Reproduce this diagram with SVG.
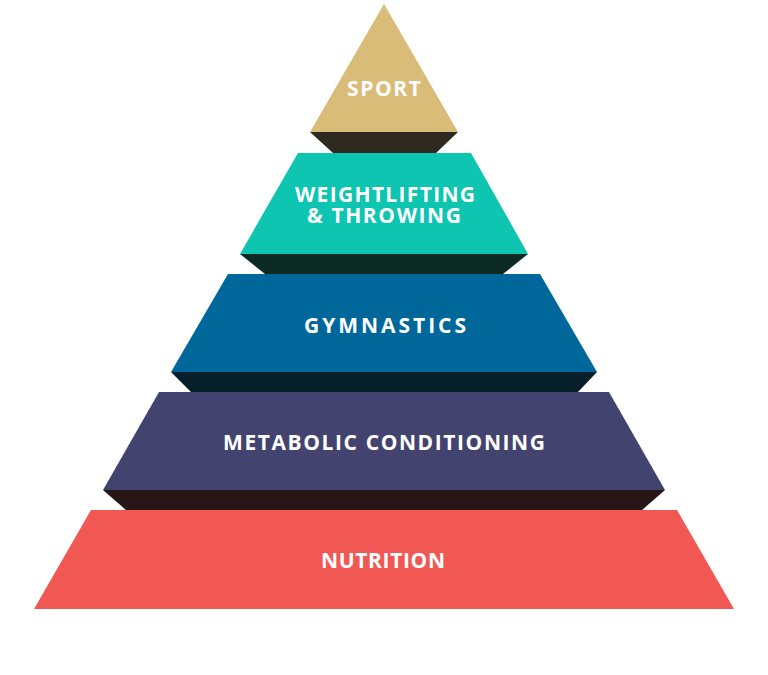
<svg xmlns="http://www.w3.org/2000/svg" width="768" height="675" viewBox="0 0 768 675">
<style>
.lbl{font-family:"Open Sans","Liberation Sans",sans-serif;font-weight:700;font-size:21px;fill:#ffffff;text-anchor:middle}
</style>
<rect width="768" height="675" fill="#ffffff"/>
<g id="sport">
<polygon points="384,4 458,132 310,132" fill="#D9BC78"/>
<polygon points="310,132 458,132 436,153 333,153" fill="#2E2A1F"/>
<text class="lbl" x="384" y="95.5" textLength="74" lengthAdjust="spacing">SPORT</text>
</g>
<g id="weightlifting">
<polygon points="298,153 471,153 528,254 240,254" fill="#0DC5B0"/>
<polygon points="240,254 528,254 503,274 265,274" fill="#0B2A24"/>
<text class="lbl" x="385" y="201.5" textLength="180" lengthAdjust="spacing">WEIGHTLIFTING</text>
<text class="lbl" x="384" y="223" textLength="154" lengthAdjust="spacing">&amp; THROWING</text>
</g>
<g id="gymnastics">
<polygon points="228,274 540,274 597,372 171,372" fill="#00679B"/>
<polygon points="171,372 597,372 578,392 191,392" fill="#071F2B"/>
<text class="lbl" x="385" y="332.5" textLength="162" lengthAdjust="spacing">GYMNASTICS</text>
</g>
<g id="metabolic">
<polygon points="159,392 609,392 665,490 103,490" fill="#43436F"/>
<polygon points="103,490 665,490 642,510 126,510" fill="#261616"/>
<text class="lbl" x="384" y="449.5" textLength="322" lengthAdjust="spacing">METABOLIC CONDITIONING</text>
</g>
<g id="nutrition">
<polygon points="91,510 677,510 734,609 34,609" fill="#F15854"/>
<text class="lbl" x="383" y="567.5" textLength="124" lengthAdjust="spacing">NUTRITION</text>
</g>
<g id="connectors"/>
</svg>
